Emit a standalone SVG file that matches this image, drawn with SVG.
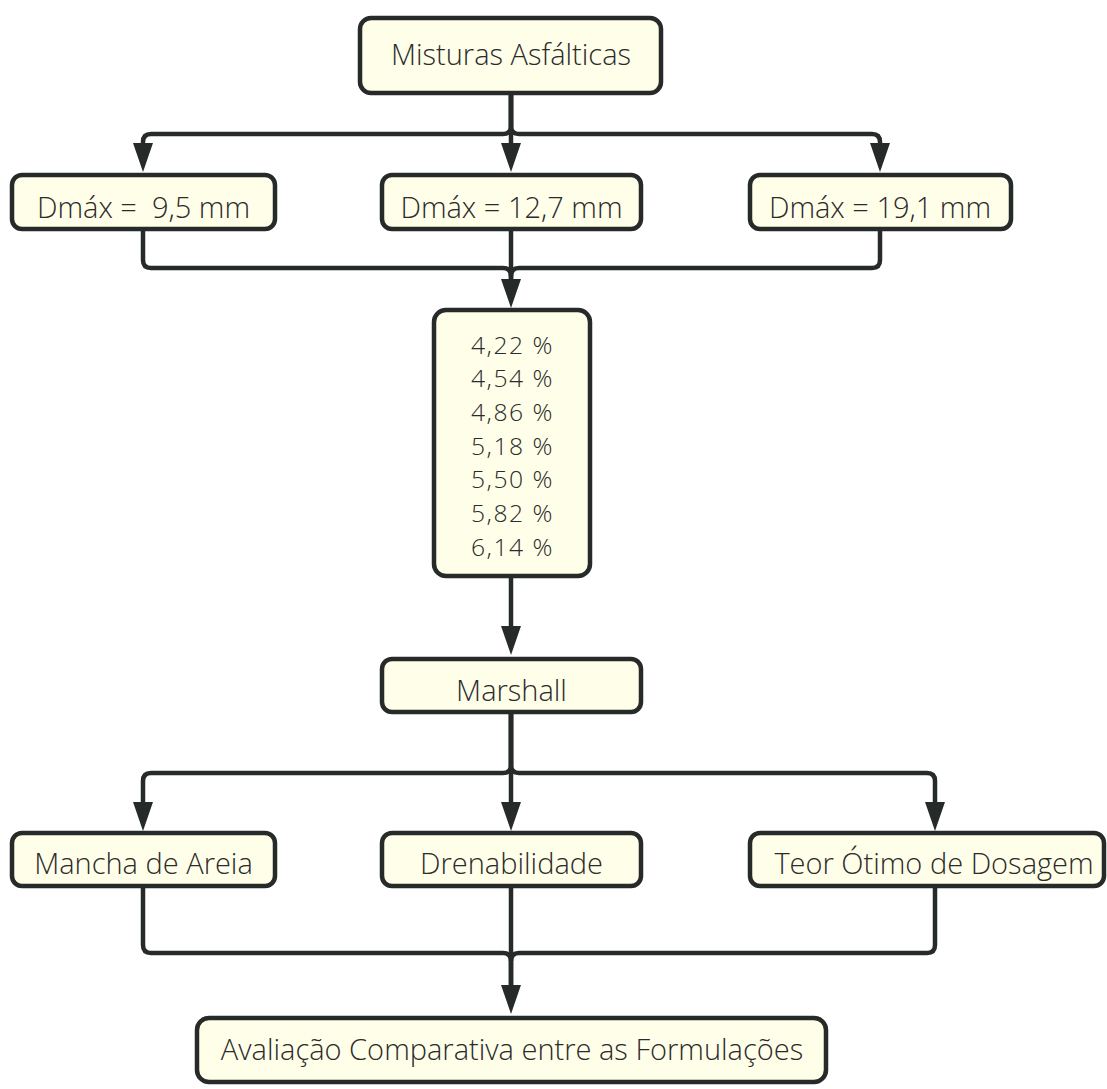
<svg xmlns="http://www.w3.org/2000/svg" width="1107" height="1089" viewBox="0 0 1107 1089">
<style>
.box{fill:#fefee9;stroke:#262a29;stroke-width:4.5}
.t{font-family:"Open Sans","DejaVu Sans",sans-serif;font-size:29px;font-weight:300;fill:#2b2b2b;text-anchor:middle;white-space:pre}
.p{font-size:24.7px;letter-spacing:1.5px}
.c{fill:none;stroke:#262a29;stroke-width:4.5;stroke-linejoin:round}
</style>
<defs>
<marker id="ah" markerUnits="userSpaceOnUse" markerWidth="30" markerHeight="22" viewBox="0 0 30 22" refX="0" refY="11" orient="auto">
<path d="M0,1 L29,11 L0,21 z" fill="#262a29"/>
</marker>
</defs>
<rect width="1107" height="1089" fill="#ffffff"/>
<g id="connectors">
<path class="c" d="M511,95 V126 Q511,134 503,134 H151 Q143,134 143,142 V143" marker-end="url(#ah)"/>
<path class="c" d="M511,95 V126 Q511,134 519,134 H872 Q880,134 880,142 V143" marker-end="url(#ah)"/>
<path class="c" d="M511,95 V143" marker-end="url(#ah)"/>
<path class="c" d="M143,231 V260 Q143,268 151,268 H503 Q511,268 511,276 V279" marker-end="url(#ah)"/>
<path class="c" d="M880,231 V260 Q880,268 872,268 H519 Q511,268 511,276"/>
<path class="c" d="M511,231 V279"/>
<path class="c" d="M511,578 V626" marker-end="url(#ah)"/>
<path class="c" d="M511,714 V765 Q511,773 503,773 H151 Q143,773 143,781 V802" marker-end="url(#ah)"/>
<path class="c" d="M511,714 V765 Q511,773 519,773 H927 Q935,773 935,781 V802" marker-end="url(#ah)"/>
<path class="c" d="M511,714 V802" marker-end="url(#ah)"/>
<path class="c" d="M143,888 V945 Q143,953 151,953 H503 Q511,953 511,961 V985" marker-end="url(#ah)"/>
<path class="c" d="M935,888 V945 Q935,953 927,953 H519 Q511,953 511,961"/>
<path class="c" d="M511,888 V985"/>
</g>
<g id="n-misturas">
<rect class="box" x="360" y="18" width="301" height="75" rx="11"/>
<text class="t" x="511" y="65">Misturas Asfálticas</text>
</g>
<g id="n-d95">
<rect class="box" x="12" y="175" width="263" height="54" rx="10"/>
<text class="t" x="143.5" y="218">Dmáx =  9,5 mm</text>
</g>
<g id="n-d127">
<rect class="box" x="382" y="175" width="259" height="54" rx="10"/>
<text class="t" x="511.5" y="218">Dmáx = 12,7 mm</text>
</g>
<g id="n-d191">
<rect class="box" x="750" y="175" width="261" height="54" rx="10"/>
<text class="t" x="880" y="218">Dmáx = 19,1 mm</text>
</g>
<g id="n-teores">
<rect class="box" x="434" y="310" width="156" height="266" rx="12"/>
<text class="t p" x="512.5" y="353.5">4,22 %</text>
<text class="t p" x="512.5" y="387">4,54 %</text>
<text class="t p" x="512.5" y="421">4,86 %</text>
<text class="t p" x="512.5" y="454.5">5,18 %</text>
<text class="t p" x="512.5" y="488">5,50 %</text>
<text class="t p" x="512.5" y="522">5,82 %</text>
<text class="t p" x="512.5" y="555.5">6,14 %</text>
</g>
<g id="n-marshall">
<rect class="box" x="382" y="659" width="259" height="53" rx="10"/>
<text class="t" x="511.5" y="701">Marshall</text>
</g>
<g id="n-mancha">
<rect class="box" x="12" y="833" width="263" height="53" rx="10"/>
<text class="t" x="143.5" y="874">Mancha de Areia</text>
</g>
<g id="n-dren">
<rect class="box" x="382" y="833" width="259" height="53" rx="10"/>
<text class="t" x="511.5" y="874">Drenabilidade</text>
</g>
<g id="n-teor">
<rect class="box" x="750" y="833" width="354" height="53" rx="10"/>
<text class="t" x="934" y="874">Teor Ótimo de Dosagem</text>
</g>
<g id="n-avaliacao">
<rect class="box" x="197" y="1018" width="629" height="64" rx="12"/>
<text class="t" x="512" y="1060">Avaliação Comparativa entre as Formulações</text>
</g>
</svg>
